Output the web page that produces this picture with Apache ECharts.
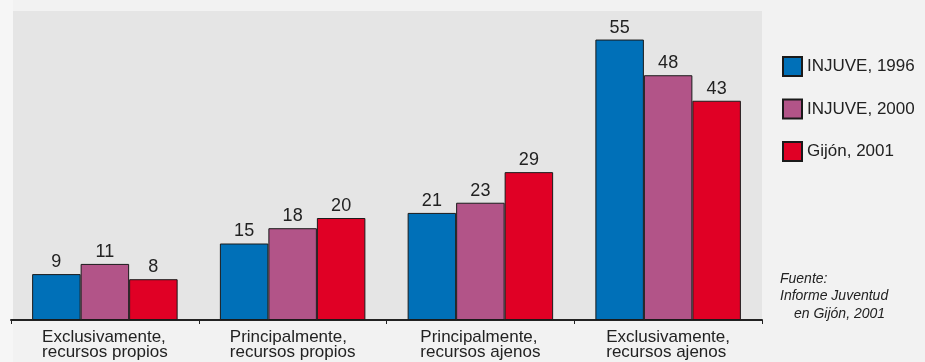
<!DOCTYPE html>
<html><head><meta charset="utf-8">
<script src="https://cdn.jsdelivr.net/npm/echarts@6/dist/echarts.min.js"></script>
<style>html,body{margin:0;padding:0;background:#f2f2f2;}#c{width:925px;height:362px;}</style>
</head><body><div id="c"></div>
<script>
const categories = ['Exclusivamente,\nrecursos propios','Principalmente,\nrecursos propios','Principalmente,\nrecursos ajenos','Exclusivamente,\nrecursos ajenos'];
const seriesNames = ['INJUVE, 1996','INJUVE, 2000','Gijón, 2001'];
const injuve1996 = [9, 15, 21, 55];
const injuve2000 = [11, 18, 23, 48];
const gijon2001 = [8, 20, 29, 43];
const sourceLines = ['Fuente:', 'Informe Juventud', 'en Gijón, 2001'];

const colors = ['#0070b8', '#b25488', '#e00025'];
const FONT = '"Liberation Sans", Arial, sans-serif';
const dataSets = [injuve1996, injuve2000, gijon2001];

const chart = echarts.init(document.getElementById('c'), null, {renderer: 'canvas'});
chart.setOption({
  backgroundColor: '#f2f2f2',
  animation: false,
  grid: {left: 11, right: 163, top: 11, bottom: 42, show: false},
  legend: {
    orient: 'vertical', left: 782, top: 56, padding: 0, itemWidth: 19, itemHeight: 19, itemGap: 21.5,
    icon: 'rect',
    textStyle: {fontFamily: FONT, fontSize: 17, color: '#222'},
    data: seriesNames
  },
  xAxis: {
    type: 'category', data: categories,
    axisLine: {lineStyle: {color: '#222', width: 2}},
    axisTick: {show: true, length: 4, lineStyle: {color: '#222', width: 1}},
    axisLabel: {
      interval: 0, margin: 10, color: '#222', fontFamily: FONT, fontSize: 17, lineHeight: 15,
      formatter: v => v.split('\n').map(s => '{a|' + s + '}').join('\n'),
      rich: {a: {align: 'left', fontFamily: FONT, fontSize: 17, lineHeight: 15, color: '#222'}}
    }
  },
  yAxis: {type: 'value', min: 0, max: 60.6, show: false, splitLine: {show: false}},
  series: dataSets.map((d, i) => ({
    name: seriesNames[i], type: 'bar', data: d, barWidth: 48.5, barGap: '0%',
    itemStyle: {color: colors[i], borderColor: '#1a1a1a', borderWidth: 1},
    label: {show: true, position: 'top', distance: 3, fontFamily: FONT, fontSize: 18, color: '#222'}
  })),
  graphic: [
    {type: 'rect', left: 0, top: 0, shape: {width: 13, height: 362}, style: {fill: '#f6f6f6'}, silent: true, z: -10},
    {type: 'rect', left: 13, top: 11, shape: {width: 749, height: 309}, style: {fill: '#e5e5e5'}, silent: true, z: -10},
    {type: 'text', left: 780, top: 272, style: {text: sourceLines[0], font: 'italic 14px ' + FONT, fill: '#222'}},
    {type: 'text', left: 780, top: 289.5, style: {text: sourceLines[1], font: 'italic 14px ' + FONT, fill: '#222'}},
    {type: 'text', left: 794, top: 307, style: {text: sourceLines[2], font: 'italic 14px ' + FONT, fill: '#222'}}
  ]
});
</script></body></html>
